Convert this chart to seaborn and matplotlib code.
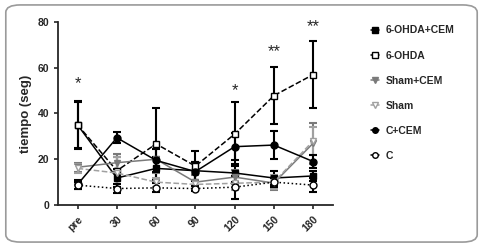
import matplotlib
matplotlib.use("Agg")
import numpy as np
import pandas as pd
import seaborn as sns
from matplotlib import pyplot as plt
from matplotlib.patches import FancyBboxPatch
from matplotlib.lines import Line2D

# time points
tiempos = ["pre", "30", "60", "90", "120", "150", "180"]

# group means (seg)
ohda_cem = [35, 11.8, 16, 15, 14, 11.8, 12.7]
ohda = [35, 15, 26.7, 17, 31, 47.8, 57]
sham_cem = [16.5, 18.5, 20, 10, 12.2, 9.6, 27]
sham = [16, 14, 10, 9, 9.5, 10, 28]
c_cem = [9, 29.4, 19.5, 14.6, 25.5, 26.2, 19]
c = [8.7, 7.2, 7.5, 7.2, 7.8, 10, 8.7]

# error bars
ohda_cem_err = [10.5, 4, 5, 4, 4, 3, 2]
ohda_err = [10, 6, 15.5, 6.5, 14, 12.5, 14.5]
sham_cem_err = [2, 4, 6, 3, 3, 3, 9]
sham_err = [2, 7, 2, 2, 3, 3, 6]
c_cem_err = [2, 2.5, 5, 4, 6, 6, 3]
c_err = [1.5, 2, 2, 1, 5, 2, 3]

# significance marks
star_pos = ["pre", "120", "150", "180"]
star_txt = ["*", "*", "**", "**"]
star_y = [53, 50, 67, 78]

groups = [
    ("6-OHDA+CEM", ohda_cem, ohda_cem_err, "black", "-", "s", "black"),
    ("6-OHDA", ohda, ohda_err, "black", "--", "s", "white"),
    ("Sham+CEM", sham_cem, sham_cem_err, "#7a7a7a", "-", "v", "#7a7a7a"),
    ("Sham", sham, sham_err, "#a0a0a0", "--", "v", "white"),
    ("C+CEM", c_cem, c_cem_err, "black", "-", "o", "black"),
    ("C", c, c_err, "black", ":", "o", "white"),
]

sns.set_style("ticks")
plt.rcParams["font.family"] = ["Liberation Sans", "DejaVu Sans"]
plt.rcParams["font.weight"] = "bold"

fig = plt.figure(figsize=(4.83, 2.47), dpi=100)
ax = fig.add_axes([0.120, 0.170, 0.569, 0.741])

x = np.arange(len(tiempos))
handles = []
for name, vals, err, col, ls, mk, fc in groups:
    df = pd.DataFrame({"t": x, "v": vals})
    ax.errorbar(x, vals, yerr=err, fmt="none", ecolor=col, elinewidth=1.5,
                capsize=3, capthick=1.5, zorder=2)
    sns.lineplot(data=df, x="t", y="v", ax=ax, color=col, linestyle=ls,
                 linewidth=1.1, marker=mk, markersize=5, markerfacecolor=fc,
                 markeredgecolor=col, markeredgewidth=1, zorder=3)
    handles.append(Line2D([], [], color=col, linestyle="-", linewidth=1.1,
                          marker=mk, markersize=4, markerfacecolor=fc,
                          markeredgecolor=col, label=name))

for pos, txt, yy in zip(star_pos, star_txt, star_y):
    ax.text(tiempos.index(pos), yy, txt, ha="center", va="center",
            fontsize=12, fontweight="normal")

ax.set_xlim(-0.5, 6.5)
ax.set_ylim(0, 80)
ax.set_yticks([0, 20, 40, 60, 80])
ax.set_xticks(x)
ax.set_xticklabels(tiempos, rotation=45, ha="right", rotation_mode="anchor")
ax.set_xlabel("")
ax.set_ylabel("tiempo (seg)", fontsize=9.5, fontweight="bold")
ax.tick_params(labelsize=7.5, width=1.2, length=3)
for lab in ax.get_xticklabels() + ax.get_yticklabels():
    lab.set_fontweight("bold")
sns.despine(ax=ax)
for sp in ["left", "bottom"]:
    ax.spines[sp].set_linewidth(1.3)

fig.legend(handles=handles, loc="upper left", bbox_to_anchor=(0.748, 0.935),
           frameon=False, handlelength=0.8, handletextpad=0.6,
           labelspacing=1.45, prop={"weight": "bold", "size": 7.5})

border = FancyBboxPatch((0.012, 0.02), 0.976, 0.96,
                        boxstyle="round,pad=0,rounding_size=0.03",
                        transform=fig.transFigure, facecolor="none",
                        edgecolor="#9a9a9a", linewidth=1.2)
fig.patches.append(border)

fig.savefig("out.png", dpi=100)
